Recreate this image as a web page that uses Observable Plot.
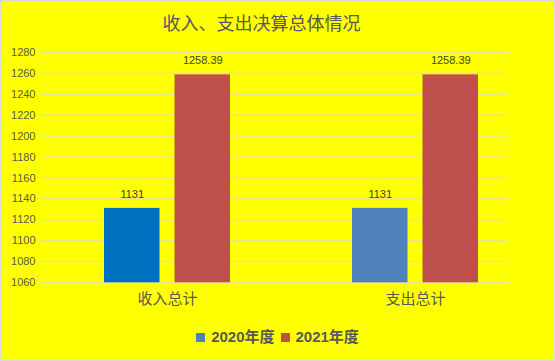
<!DOCTYPE html>
<html>
<head>
<meta charset="utf-8">
<script src="https://cdn.jsdelivr.net/npm/d3@7"></script>
<script src="https://cdn.jsdelivr.net/npm/@observablehq/plot@0.6"></script>
<style>
  html, body { margin: 0; padding: 0; background: #FFFF00; }
  #chart { position: relative; width: 555px; height: 361px; background: #FFFF00; overflow: hidden;
    font-family: "Liberation Sans", "Noto Sans CJK SC", sans-serif; }
  #title { position: absolute; left: 0; top: 11px; width: 523px; text-align: center;
    font-family: "Noto Sans CJK SC", sans-serif; font-size: 18px; line-height: 22px; color: #595959; }
  #plot { position: absolute; left: 0; top: 0; }
  #legend { position: absolute; left: 0; top: 327px; width: 555px; display: flex; justify-content: center;
    align-items: center; font-size: 15px; font-weight: bold; color: #595959; line-height: 20px; }
  .item { display: flex; align-items: center; margin: 0 3px; }
  .sw { width: 9px; height: 9px; margin-right: 6px; }
  #border { position: absolute; left: 0; top: 0; width: 555px; height: 361px; box-sizing: border-box;
    border: 1px solid #D9D9D9; pointer-events: none; }
</style>
</head>
<body>
<div id="chart">
  <div id="title">收入、支出决算总体情况</div>
  <div id="plot"></div>
  <div id="legend"></div>
  <div id="border"></div>
</div>
<script>
const categories = ["收入总计", "支出总计"];
const seriesNames = ["2020年度", "2021年度"];
const values2020 = [1131, 1131];
const values2021 = [1258.39, 1258.39];
const yTicks = [1060, 1080, 1100, 1120, 1140, 1160, 1180, 1200, 1220, 1240, 1260, 1280];

const colors2020Bars = ["#0070C0", "#4F81BD"];
const legendColors = ["#4F81BD", "#C0504D"];
const color2021 = "#C0504D";

const yMin = yTicks[0], yMax = yTicks[yTicks.length - 1];
const d2020 = categories.map((c, i) => ({category: c, value: values2020[i], color: colors2020Bars[i]}));
const d2021 = categories.map((c, i) => ({category: c, value: values2021[i]}));

const plot = Plot.plot({
  width: 555,
  height: 361,
  marginLeft: 40,
  marginRight: 47,
  marginTop: 51.7,
  marginBottom: 78.7,
  style: {background: "transparent", fontFamily: "'Liberation Sans', 'Noto Sans CJK SC', sans-serif"},
  x: {type: "band", domain: categories, paddingInner: 0.493, paddingOuter: 0.188, align: 0.684, label: null},
  y: {domain: [yMin, yMax], label: null},
  marks: [
    Plot.ruleY(yTicks, {stroke: "#D9D9D9", strokeWidth: 1}),
    Plot.barY(d2020, {x: "category", y1: yMin, y2: "value", fill: "color", insetLeft: 0, insetRight: 70.5}),
    Plot.barY(d2021, {x: "category", y1: yMin, y2: "value", fill: color2021, insetLeft: 70.5, insetRight: 0}),
    Plot.text(d2020, {x: "category", y: "value", text: d => String(d.value), dx: -35.25, dy: -14, fill: "#404040", fontSize: 11}),
    Plot.text(d2021, {x: "category", y: "value", text: d => String(d.value), dx: 35.25, dy: -14, fill: "#404040", fontSize: 11}),
    Plot.axisY({ticks: yTicks, tickFormat: d => String(d), tickSize: 0, tickPadding: 5, fontSize: 11, color: "#595959", label: null}),
    Plot.axisX({tickSize: 0, tickPadding: 11, fontSize: 15, color: "#595959", label: null, fontFamily: "Noto Sans CJK SC"})
  ]
});
document.getElementById("plot").appendChild(plot);

const legend = document.getElementById("legend");
seriesNames.forEach((name, i) => {
  const item = document.createElement("div");
  item.className = "item";
  const sw = document.createElement("span");
  sw.className = "sw";
  sw.style.background = legendColors[i];
  const label = document.createElement("span");
  label.textContent = name;
  item.appendChild(sw);
  item.appendChild(label);
  legend.appendChild(item);
});
</script>
</body>
</html>
